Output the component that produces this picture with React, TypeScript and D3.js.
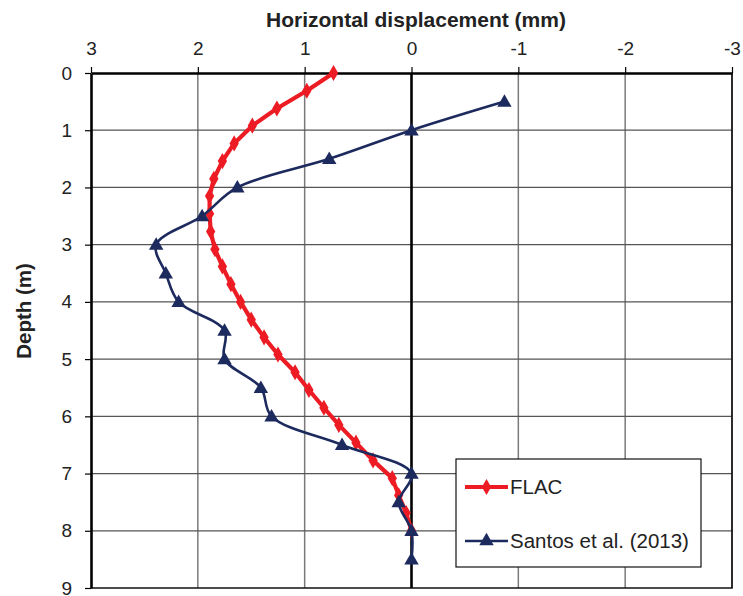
import React, { useRef, useEffect } from 'react';
import * as d3 from 'd3';

// FLAC model results (depth m, horizontal displacement mm)
const flacDepth = [0, 0.31, 0.62, 0.92, 1.23, 1.54, 1.85, 2.15, 2.46, 2.77, 3.08, 3.38, 3.69, 4.0,
  4.31, 4.62, 4.92, 5.23, 5.54, 5.85, 6.15, 6.46, 6.77, 7.08, 7.38, 7.69, 8.0];
const flacDisp = [0.73, 0.98, 1.26, 1.49, 1.66, 1.77, 1.85, 1.89, 1.89, 1.88, 1.84, 1.77, 1.69, 1.6,
  1.5, 1.38, 1.25, 1.09, 0.96, 0.82, 0.68, 0.52, 0.36, 0.18, 0.12, 0.05, 0.0];

// Santos et al. (2013) measurements
const santosDepth = [0.5, 1, 1.5, 2, 2.5, 3, 3.5, 4, 4.5, 5, 5.5, 6, 6.5, 7, 7.5, 8, 8.5];
const santosDisp = [-0.87, 0, 0.77, 1.63, 1.96, 2.39, 2.3, 2.18, 1.75, 1.75, 1.41, 1.31, 0.65, 0, 0.12, 0, 0];

const xTicks = [3, 2, 1, 0, -1, -2, -3];
const yTicks = [0, 1, 2, 3, 4, 5, 6, 7, 8, 9];

const RED = '#ed1c24';
const NAVY = '#1d2a5e';
const FONT = '"Liberation Sans", Arial, sans-serif';

const App = () => {
  const svgRef = useRef<SVGSVGElement>(null);

  useEffect(() => {
    if (!svgRef.current) return;
    const svg = d3.select(svgRef.current);
    svg.selectAll('*').remove();

    const x = d3.scaleLinear().domain([3, -3]).range([91, 732]);
    const y = d3.scaleLinear().domain([0, 9]).range([73, 588]);

    // grid
    const grid = svg.append('g');
    grid.selectAll('.vg')
      .data(xTicks.filter(d => d !== 3 && d !== 0))
      .enter()
      .append('line')
      .attr('x1', d => x(d)).attr('x2', d => x(d))
      .attr('y1', y(0)).attr('y2', y(9))
      .attr('stroke', '#7a7a7a')
      .attr('stroke-width', 1.5);
    grid.selectAll('.hg')
      .data(yTicks.filter(d => d !== 0 && d !== 9))
      .enter()
      .append('line')
      .attr('x1', x(3)).attr('x2', x(-3))
      .attr('y1', d => y(d)).attr('y2', d => y(d))
      .attr('stroke', '#555')
      .attr('stroke-width', 1.3);

    // bottom & right border
    svg.append('line')
      .attr('x1', x(3)).attr('x2', x(-3) + 0.75)
      .attr('y1', y(9)).attr('y2', y(9))
      .attr('stroke', '#111').attr('stroke-width', 1.6);
    svg.append('line')
      .attr('x1', x(-3)).attr('x2', x(-3))
      .attr('y1', y(0)).attr('y2', y(9))
      .attr('stroke', '#111').attr('stroke-width', 1.6);

    // zero line
    svg.append('line')
      .attr('x1', x(0)).attr('x2', x(0))
      .attr('y1', y(0)).attr('y2', y(9))
      .attr('stroke', '#000').attr('stroke-width', 2.6);

    // top axis
    const xAxis = svg.append('g')
      .attr('transform', `translate(0,${y(0)})`)
      .call(d3.axisTop(x).tickValues(xTicks).tickSize(6).tickSizeOuter(0).tickPadding(12)
        .tickFormat(d => String(d)));
    xAxis.select('.domain').attr('stroke', '#000').attr('stroke-width', 2.6);
    xAxis.selectAll('.tick line').attr('stroke', '#000').attr('stroke-width', 1.2);
    xAxis.selectAll('.tick text')
      .attr('font-family', FONT).attr('font-size', 19).attr('fill', '#222');

    // left axis
    const yAxis = svg.append('g')
      .attr('transform', `translate(${x(3)},0)`)
      .call(d3.axisLeft(y).tickValues(yTicks).tickSize(6).tickSizeOuter(0).tickPadding(13));
    yAxis.select('.domain').attr('stroke', '#000').attr('stroke-width', 2.6);
    yAxis.selectAll('.tick line').attr('stroke', '#000').attr('stroke-width', 1.2);
    yAxis.selectAll('.tick text')
      .attr('font-family', FONT).attr('font-size', 19).attr('fill', '#222');

    // titles
    svg.append('text')
      .attr('x', 416).attr('y', 27)
      .attr('text-anchor', 'middle')
      .attr('font-family', FONT).attr('font-size', 21).attr('font-weight', 'bold')
      .attr('fill', '#222')
      .text('Horizontal displacement (mm)');
    svg.append('text')
      .attr('transform', 'translate(31,311) rotate(-90)')
      .attr('text-anchor', 'middle')
      .attr('font-family', FONT).attr('font-size', 20.5).attr('font-weight', 'bold')
      .attr('fill', '#222')
      .text('Depth (m)');

    // series
    const flac = flacDepth.map((d, i) => ({ depth: d, disp: flacDisp[i] }));
    const santos = santosDepth.map((d, i) => ({ depth: d, disp: santosDisp[i] }));

    const flacLine = d3.line<{ depth: number; disp: number }>()
      .x(d => x(d.disp)).y(d => y(d.depth));
    const santosLine = d3.line<{ depth: number; disp: number }>()
      .x(d => x(d.disp)).y(d => y(d.depth))
      .curve(d3.curveCatmullRom.alpha(0.5));

    const diamond = d3.symbol().type(d3.symbolDiamond).size(75);
    const triangle = d3.symbol().type(d3.symbolTriangle).size(90);

    svg.append('path')
      .attr('d', flacLine(flac))
      .attr('fill', 'none').attr('stroke', RED).attr('stroke-width', 4.2)
      .attr('stroke-linejoin', 'round');
    svg.selectAll('.fm')
      .data(flac)
      .enter()
      .append('path')
      .attr('d', diamond)
      .attr('transform', d => `translate(${x(d.disp)},${y(d.depth)})`)
      .attr('fill', RED);

    svg.append('path')
      .attr('d', santosLine(santos))
      .attr('fill', 'none').attr('stroke', NAVY).attr('stroke-width', 2.6);
    svg.selectAll('.sm')
      .data(santos)
      .enter()
      .append('path')
      .attr('d', triangle)
      .attr('transform', d => `translate(${x(d.disp)},${y(d.depth) + 1})`)
      .attr('fill', NAVY);

    // legend
    const lg = svg.append('g');
    lg.append('rect')
      .attr('x', 456).attr('y', 459).attr('width', 245).attr('height', 108)
      .attr('fill', '#fff').attr('stroke', '#111').attr('stroke-width', 1.2);
    lg.append('line')
      .attr('x1', 465).attr('x2', 508).attr('y1', 487).attr('y2', 487)
      .attr('stroke', RED).attr('stroke-width', 4.2);
    lg.append('path').attr('d', diamond).attr('transform', 'translate(486.5,487)').attr('fill', RED);
    lg.append('text')
      .attr('x', 510).attr('y', 494)
      .attr('font-family', FONT).attr('font-size', 20.5).attr('fill', '#222')
      .text('FLAC');
    lg.append('line')
      .attr('x1', 465).attr('x2', 508).attr('y1', 541).attr('y2', 541)
      .attr('stroke', NAVY).attr('stroke-width', 2.6);
    lg.append('path').attr('d', triangle).attr('transform', 'translate(486.5,541)').attr('fill', NAVY);
    lg.append('text')
      .attr('x', 510).attr('y', 548)
      .attr('font-family', FONT).attr('font-size', 20.5).attr('fill', '#222')
      .text('Santos et al. (2013)');
  }, []);

  return (
    <svg
      ref={svgRef}
      width={743}
      height={596}
      style={{ position: 'absolute', left: 0, top: 0, background: '#fff' }}
    />
  );
};

export default App;
